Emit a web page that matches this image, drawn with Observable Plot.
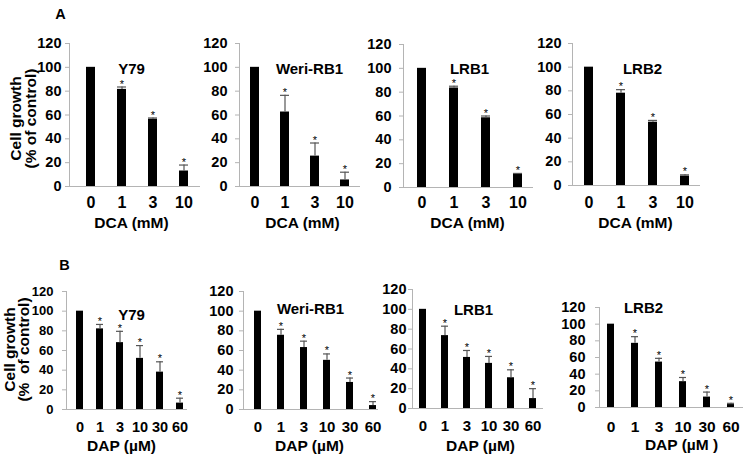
<!DOCTYPE html>
<html><head><meta charset="utf-8">
<script src="https://cdn.jsdelivr.net/npm/d3@7"></script>
<script src="https://cdn.jsdelivr.net/npm/@observablehq/plot@0.6"></script>
<style>
html,body{margin:0;padding:0;background:#fff;}
#chart{position:relative;width:745px;height:459px;overflow:hidden;background:#fff;}
#chart svg{position:absolute;left:0;top:0;}
</style></head><body><div id="chart"></div>
<script>
// ---- data ----
const doseDCA = ["0", "1", "3", "10"];
const doseDAP = ["0", "1", "3", "10", "30", "60"];
const cellLines = ["Y79", "Weri-RB1", "LRB1", "LRB2"];
const yTicks = [0, 20, 40, 60, 80, 100, 120];

const dcaY79 = [100, 81.5, 56.5, 13];
const dcaY79Sd = [0, 2, 1, 5];
const dcaWeri = [100, 62.5, 25.5, 5.5];
const dcaWeriSd = [0, 14, 11, 6.5];
const dcaLRB1 = [100, 83.5, 58.5, 11];
const dcaLRB1Sd = [0, 1.5, 1.5, 0.8];
const dcaLRB2 = [100, 78, 53.5, 8];
const dcaLRB2Sd = [0, 3, 1.5, 1];

const dapY79 = [100, 82, 68, 52, 38, 6.5];
const dapY79Sd = [0, 4.5, 11.5, 13, 10.5, 5];
const dapWeri = [100, 75.5, 63, 50, 27.5, 4];
const dapWeriSd = [0, 6, 6.5, 6.5, 4.5, 4];
const dapLRB1 = [100, 73.5, 51.5, 45.5, 31, 10];
const dapLRB1Sd = [0, 9.5, 7, 7, 8, 10];
const dapLRB2 = [100, 77, 54.5, 31, 12.5, 3.5];
const dapLRB2Sd = [0, 8, 4.5, 5, 6, 1.5];

const dcaLabel = "DCA (mM)";
const dapLabels = ["DAP (µM)", "DAP (µM)", "DAP (µM)", "DAP (µM )"];
const yTitleA = ["Cell growth", "(% of control)"];
const yTitleB = ["Cell growth", "(%  of control)"];
const panelLetters = ["A", "B"];

// ---- layout ----
const W = 745, H = 459;
const axisGray = "#b4b4b4", errGray = "#555";
const font = "'Liberation Sans', Arial, sans-serif";

const panels = [
  {doses: doseDCA, mean: dcaY79, sd: dcaY79Sd, title: cellLines[0], xLabel: dcaLabel,
   axL: 69, axR: 200, y0: 186, y120: 43, c0: 90, step: 31.7, barW: 9, yFont: 14.5, yPad: 4, xFont: 16, xPad: 10,
   tX: 131, tY: 63, lX: 131, lY: 227, letter: panelLetters[0], letX: 60, letY: 8, yTitle: yTitleA, yt1: 16, yt2: 31, ytY: 118},
  {doses: doseDCA, mean: dcaWeri, sd: dcaWeriSd, title: cellLines[1], xLabel: dcaLabel,
   axL: 239, axR: 360, y0: 186, y120: 43, c0: 254, step: 30.3, barW: 9, yFont: 14.5, yPad: 8, xFont: 16, xPad: 10,
   tX: 309, tY: 63, lX: 302, lY: 227},
  {doses: doseDCA, mean: dcaLRB1, sd: dcaLRB1Sd, title: cellLines[2], xLabel: dcaLabel,
   axL: 403, axR: 533, y0: 187, y120: 44, c0: 421, step: 32.3, barW: 9, yFont: 14.5, yPad: 8, xFont: 16, xPad: 9,
   tX: 469, tY: 63, lX: 467, lY: 227},
  {doses: doseDCA, mean: dcaLRB2, sd: dcaLRB2Sd, title: cellLines[3], xLabel: dcaLabel,
   axL: 572, axR: 700, y0: 185, y120: 43, c0: 588, step: 32.3, barW: 9, yFont: 14.5, yPad: 7, xFont: 16, xPad: 11,
   tX: 642, tY: 63, lX: 635, lY: 227},
  {doses: doseDAP, mean: dapY79, sd: dapY79Sd, title: cellLines[0], xLabel: dapLabels[0],
   axL: 66, axR: 187, y0: 409, y120: 291, c0: 79, step: 20, barW: 7, yFont: 13, yPad: 9, xFont: 14.5, xPad: 12,
   tX: 131, tY: 309, lX: 121, lY: 450, letter: panelLetters[1], letX: 64, letY: 259, yTitle: yTitleB, yt1: 10, yt2: 24, ytY: 349},
  {doses: doseDAP, mean: dapWeri, sd: dapWeriSd, title: cellLines[1], xLabel: dapLabels[1],
   axL: 243, axR: 378, y0: 409, y120: 291, c0: 257, step: 23.2, barW: 7, yFont: 14.5, yPad: 6, xFont: 15, xPad: 12,
   tX: 310, tY: 303, lX: 309, lY: 450},
  {doses: doseDAP, mean: dapLRB1, sd: dapLRB1Sd, title: cellLines[2], xLabel: dapLabels[2],
   axL: 412, axR: 543, y0: 408, y120: 289, c0: 422, step: 22, barW: 7, yFont: 14.5, yPad: 2, xFont: 15, xPad: 12,
   tX: 473, tY: 304, lX: 480, lY: 450},
  {doses: doseDAP, mean: dapLRB2, sd: dapLRB2Sd, title: cellLines[3], xLabel: dapLabels[3],
   axL: 599, axR: 743, y0: 407, y120: 307, c0: 610, step: 24.4, barW: 7, yFont: 14.5, yPad: 10, xFont: 15.5, xPad: 13,
   tX: 643, tY: 302, lX: 681, lY: 449}
];

function panel(o) {
  const rows = o.doses.map((d, i) => ({dose: d, mean: o.mean[i], sd: o.sd[i], top: o.mean[i] + o.sd[i], idx: i}));
  const n = o.doses.length;
  const p = 1 - o.barW / o.step;
  const start = o.c0 - o.barW / 2;
  const stop = start + o.step * (n - p);
  const withErr = rows.filter(r => r.sd > 0);
  const marks = [
    Plot.ruleY([0], {stroke: axisGray}),
    Plot.frame({anchor: "left", stroke: axisGray}),
    Plot.axisY({ticks: yTicks, tickSize: 4, tickPadding: o.yPad, stroke: axisGray, fill: "black",
      fontSize: o.yFont, fontWeight: "bold", label: null}),
    Plot.axisX({tickSize: 0, tickPadding: o.xPad, fill: "black", fontSize: o.xFont, fontWeight: "bold", label: null}),
    Plot.barY(rows, {x: "dose", y: "mean", fill: "black"}),
    Plot.ruleX(withErr, {x: "dose", y1: "mean", y2: "top", stroke: errGray, strokeWidth: 1.2}),
    Plot.tickY(withErr, {x: "dose", y: "top", stroke: errGray, strokeWidth: 1.2}),
    Plot.text(rows.filter(r => r.idx > 0), {x: "dose", y: "top", text: () => "*", dy: -3, fontSize: 11, fontWeight: "normal", fill: "black"}),
    Plot.text([o.title], {frameAnchor: "top-left", dx: o.tX - o.axL, dy: o.tY - o.y120, fontSize: 15, fontWeight: "bold", textAnchor: "middle", fill: "black"}),
    Plot.text([o.xLabel], {frameAnchor: "bottom-left", dx: o.lX - o.axL, dy: o.lY - o.y0, fontSize: 15.5, fontWeight: "bold", textAnchor: "middle", fill: "black"})
  ];
  if (o.letter) {
    marks.push(Plot.text([o.letter], {frameAnchor: "top-left", dx: o.letX - o.axL, dy: o.letY - o.y120, fontSize: 14.5, fontWeight: "bold", textAnchor: "middle", fill: "black"}));
    const midY = (o.y0 + o.y120) / 2;
    marks.push(Plot.text([o.yTitle[0]], {frameAnchor: "left", dx: o.yt1 - o.axL, dy: o.ytY - midY, rotate: -90, fontSize: 15.5, fontWeight: "bold", textAnchor: "middle", fill: "black"}));
    marks.push(Plot.text([o.yTitle[1]], {frameAnchor: "left", dx: o.yt2 - o.axL, dy: o.ytY - midY, rotate: -90, fontSize: 15.5, fontWeight: "bold", textAnchor: "middle", fill: "black"}));
  }
  return Plot.plot({
    width: W, height: H,
    marginLeft: o.axL, marginRight: W - o.axR, marginTop: o.y120, marginBottom: H - o.y0,
    style: {background: "transparent", fontFamily: font, overflow: "visible"},
    x: {type: "band", domain: o.doses, range: [start, stop], paddingInner: p, paddingOuter: 0, align: 0, label: null},
    y: {domain: [0, 120], label: null},
    marks
  });
}

const chart = document.getElementById("chart");
for (const o of panels) chart.appendChild(panel(o));
</script></body></html>
